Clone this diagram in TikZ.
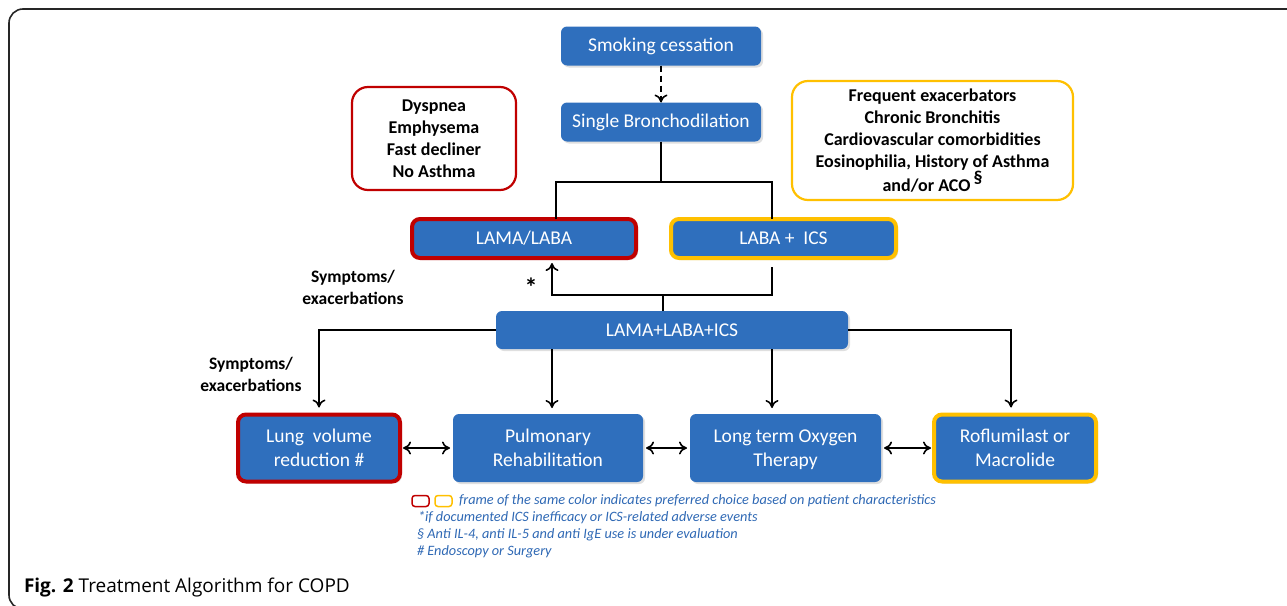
\documentclass[tikz,border=0pt]{standalone}
\usepackage{fontspec}
\setmainfont{Carlito}
\newfontfamily\capfont{Open Sans}
\usepackage{xcolor}
\definecolor{boxblue}{RGB}{47,111,189}
\definecolor{framered}{RGB}{192,0,0}
\definecolor{frameyellow}{RGB}{255,192,0}
\definecolor{notecolor}{RGB}{46,104,180}
\usepackage{tikz}
\usetikzlibrary{positioning}
\usetikzlibrary{arrows.meta,shadows}
\begin{document}
\begin{tikzpicture}[x=1pt,y=-1pt,node distance=37pt,>={To[length=8pt,width=13pt]},
	every node/.style={inner sep=0,outer sep=0},
	bluebox/.style={fill=boxblue,rounded corners=6pt,text=white,align=center,font=\fontsize{19.5}{24}\selectfont,drop shadow={opacity=0.25,shadow xshift=2pt,shadow yshift=-2pt}},
	redframe/.style={draw=framered,line width=4pt,rounded corners=8pt},
	yellowframe/.style={draw=frameyellow,line width=4pt,rounded corners=8pt},
	profile/.style={rounded corners=16pt,line width=2.2pt,fill=white,align=center,font=\bfseries\fontsize{18}{22}\selectfont},
	lab/.style={align=center,font=\bfseries\fontsize{17.5}{22}\selectfont},
	keybox/.style={line width=1.5pt,rounded corners=3pt,minimum width=17pt,minimum height=11pt},
	notetext/.style={anchor=west,text=notecolor,font=\itshape\fontsize{14.3}{17}\selectfont},
	link/.style={line width=1.6pt}]
	\useasboundingbox (0,0) rectangle (1287,605);
	% outer frame, cut by the page
	\draw[line width=1.6pt,color=black!85,rounded corners=14pt] (1300,9) -- (9,9) -- (9,609) -- (1300,609);
	% top of the algorithm
	\node[bluebox,minimum width=200pt,minimum height=39pt] (smoke) at (661,46) {Smoking cessation};
	\node[bluebox,minimum width=200pt,minimum height=39pt,below=of smoke] (single) {Single Bronchodilation};
	\node[profile,draw=framered,minimum width=164pt,minimum height=103pt] (redlist) at (434,138.5) {Dyspnea\\Emphysema\\Fast decliner\\No Asthma};
	\node[profile,draw=frameyellow,minimum width=281pt,minimum height=119pt] (yellowlist) at (932.5,140.5) {Frequent exacerbators\\Chronic Bronchitis\\Cardiovascular comorbidities\\Eosinophilia, History of Asthma\\and/or ACO\,\raisebox{8pt}{\S}};
	% dual therapy
	\node[bluebox,redframe,minimum width=224pt,minimum height=39pt] (lamalaba) at (524,238.5) {LAMA/LABA};
	\node[bluebox,yellowframe,minimum width=225pt,minimum height=39pt] (labaics) at (783.5,238.5) {LABA +\ \ ICS};
	\node[bluebox,minimum width=352pt,minimum height=38pt] (triple) at (672,330) {LAMA+LABA+ICS};
	% last row
	\node[bluebox,minimum width=190pt,minimum height=68pt] (pulm) at (548,448) {Pulmonary\\Rehabilitation};
	\node[bluebox,redframe,minimum width=162pt,minimum height=67pt,left=53pt of pulm] (lung) {Lung\ \ volume\\reduction \#};
	\node[bluebox,minimum width=191pt,minimum height=68pt,text depth=0pt,right=47pt of pulm] (oxygen) {Long term Oxygen\\Therapy};
	\node[bluebox,yellowframe,minimum width=162pt,minimum height=67pt,right=53pt of oxygen] (rofl) {Roflumilast or\\Macrolide};
	% labels
	\node[lab] (sym1) at (353,287) {Symptoms/\\exacerbations};
	\node[lab] (sym2) at (251,374) {Symptoms/\\exacerbations};
	\node[font=\bfseries\fontsize{26}{26}\selectfont] (star) at (531,287) {*};
	% connectors
	\coordinate (split) at (661,182);
	\coordinate (jl) at (556,182);
	\coordinate (jr) at (772,182);
	\coordinate (fork) at (663,295);
	\coordinate (up) at (552,263);
	\coordinate (back) at (772,267);
	\draw[link,->,dashed,dash pattern=on 6pt off 4pt] (smoke) -- (single.north);
	\draw[link] (single) -- (split);
	\draw[link] (jl |- lamalaba.north) |- (jr) -- (jr |- labaics.north);
	\draw[link] (triple.north -| fork) -- (fork);
	\draw[link,->] (back) |- (fork) -| (up);
	\draw[link,->,shorten >=7pt] (triple.west) -| (lung.north);
	\draw[link,->,shorten >=7pt] (triple.east) -| ([xshift=-4pt]rofl.north);
	\draw[link,->,shorten >=6pt] (triple.south -| up) -- (pulm.north -| up);
	\draw[link,->,shorten >=6pt] (triple.south -| back) -- (oxygen.north -| back);
	\path[link,<->,shorten <=3pt,shorten >=3pt]
		(lung) edge (pulm)
		(pulm) edge (oxygen)
		(oxygen) edge (rofl);
	% key
	\node[keybox,draw=framered] (keyred) at (420.5,501) {};
	\node[keybox,draw=frameyellow] (keyyellow) at (443.5,501) {};
	\node[notetext] (key1) at (459,501) {frame of the same color indicates preferred choice based on patient characteristics};
	\node[notetext] (key2) at (418,518) {*if documented ICS inefficacy or ICS-related adverse events};
	\node[notetext] (key3) at (417,535) {\S{} Anti IL-4, anti IL-5 and anti IgE use is under evaluation};
	\node[notetext] (key4) at (417,552) {\# Endoscopy or Surgery};
	% caption
	\node[anchor=base west,font=\capfont\fontsize{19}{22}\selectfont] (caption) at (24,592) {\textbf{Fig. 2} Treatment Algorithm for COPD};
\end{tikzpicture}
\end{document}
